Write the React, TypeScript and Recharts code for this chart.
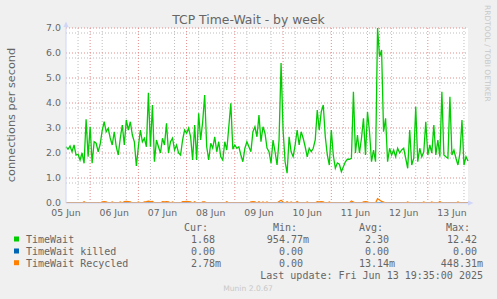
import { LineChart, Line, XAxis, YAxis, CartesianGrid } from 'recharts'

// hourly samples, first one 05 Jun 12:00, last one 13 Jun 20:00
const timeWait = [
  2.25, 2.15, 2.28, 2.05, 2.32, 1.92, 1.95, 1.72, 2.0, 1.59, 3.35, 1.85, 3.05, 1.59, 2.45, 2.39, 2.05, 2.35, 2.9, 3.25,
  2.85, 2.99, 2.6, 2.32, 2.85, 2.25, 1.92, 2.59, 3.12, 2.32, 3.32, 2.92, 3.25, 2.72, 2.45, 1.48, 2.25, 2.92, 2.45, 2.59,
  2.25, 4.41, 2.25, 3.92, 1.65, 2.52, 2.25, 2.0, 2.59, 2.32, 3.19, 2.0, 2.45, 2.59, 2.12, 2.32, 2.0, 1.92, 2.52, 2.92,
  2.79, 2.99, 2.65, 1.72, 3.12, 1.72, 3.59, 2.52, 3.25, 4.32, 2.25, 1.72, 2.39, 2.19, 2.65, 2.05, 2.45, 1.85, 1.72, 2.45,
  2.12, 3.05, 3.99, 2.15, 2.32, 2.19, 2.25, 1.92, 1.65, 2.19, 2.45, 2.25, 2.05, 2.85, 3.05, 2.65, 3.52, 2.45, 3.05, 2.79,
  2.2, 2.05, 1.59, 2.52, 2.05, 1.52, 2.52, 5.6, 2.92, 1.65, 1.19, 2.65, 2.05, 1.85, 2.32, 2.92, 2.32, 2.85, 2.59, 2.25,
  1.85, 2.19, 2.05, 2.19, 2.52, 3.72, 2.92, 3.65, 3.92, 2.65, 1.92, 1.52, 2.92, 1.9, 1.39, 1.6, 1.55, 1.25, 1.45, 1.65,
  1.75, 1.75, 1.79, 4.45, 2.0, 2.72, 2.0, 2.59, 3.39, 1.92, 3.65, 2.85, 1.65, 2.12, 1.65, 7.0, 5.85, 6.12, 2.85, 3.39,
  1.65, 2.19, 1.92, 2.12, 1.85, 2.19, 2.0, 2.12, 2.19, 1.79, 1.39, 2.92, 1.52, 1.79, 3.85, 1.65, 2.19, 1.85, 2.05, 3.25,
  1.92, 2.32, 2.0, 3.12, 1.92, 2.52, 1.85, 4.45, 1.92, 1.85, 1.79, 4.25, 1.92, 2.12, 1.79, 1.52, 2.0, 3.32, 1.52, 1.85,
  1.68,
]

const timeWaitKilled = [
  0, 0, 0, 0, 0, 0, 0, 0, 0, 0, 0, 0, 0, 0, 0, 0, 0, 0, 0, 0,
  0, 0, 0, 0, 0, 0, 0, 0, 0, 0, 0, 0, 0, 0, 0, 0, 0, 0, 0, 0,
  0, 0, 0, 0, 0, 0, 0, 0, 0, 0, 0, 0, 0, 0, 0, 0, 0, 0, 0, 0,
  0, 0, 0, 0, 0, 0, 0, 0, 0, 0, 0, 0, 0, 0, 0, 0, 0, 0, 0, 0,
  0, 0, 0, 0, 0, 0, 0, 0, 0, 0, 0, 0, 0, 0, 0, 0, 0, 0, 0, 0,
  0, 0, 0, 0, 0, 0, 0, 0, 0, 0, 0, 0, 0, 0, 0, 0, 0, 0, 0, 0,
  0, 0, 0, 0, 0, 0, 0, 0, 0, 0, 0, 0, 0, 0, 0, 0, 0, 0, 0, 0,
  0, 0, 0, 0, 0, 0, 0, 0, 0, 0, 0, 0, 0, 0, 0, 0, 0, 0, 0, 0,
  0, 0, 0, 0, 0, 0, 0, 0, 0, 0, 0, 0, 0, 0, 0, 0, 0, 0, 0, 0,
  0, 0, 0, 0, 0, 0, 0, 0, 0, 0, 0, 0, 0, 0, 0, 0, 0, 0, 0, 0,
  0,
]

const timeWaitRecycled = [
  0, 0, 0, 0, 0, 0, 0, 0, 0, 0.05, 0, 0, 0, 0, 0, 0, 0, 0, 0.04, 0.05,
  0.04, 0, 0, 0.04, 0, 0, 0, 0.04, 0, 0.05, 0.06, 0.05, 0.04, 0, 0, 0, 0.04, 0, 0, 0.04,
  0.05, 0.07, 0.05, 0.06, 0, 0, 0, 0, 0.05, 0.04, 0.05, 0.04, 0, 0.04, 0, 0, 0, 0, 0.05, 0.05,
  0.06, 0.05, 0.04, 0, 0.05, 0, 0, 0, 0.04, 0.04, 0, 0, 0, 0, 0, 0, 0, 0, 0, 0,
  0.05, 0, 0, 0, 0, 0, 0, 0, 0, 0, 0, 0, 0.04, 0.05, 0.04, 0, 0.05, 0, 0.04, 0,
  0.04, 0, 0, 0, 0, 0, 0.06, 0.11, 0.04, 0, 0.05, 0, 0.04, 0, 0, 0.06, 0, 0, 0, 0,
  0.04, 0, 0, 0, 0, 0.05, 0.04, 0.05, 0.04, 0, 0, 0.04, 0, 0, 0, 0, 0, 0, 0, 0,
  0, 0, 0.08, 0.04, 0, 0, 0, 0, 0.04, 0.05, 0.04, 0, 0, 0, 0, 0.17, 0.12, 0.06, 0.04, 0,
  0, 0, 0, 0, 0, 0, 0, 0, 0, 0, 0.04, 0, 0, 0, 0, 0, 0, 0, 0.04, 0,
  0, 0, 0.04, 0, 0, 0, 0.06, 0, 0, 0, 0, 0, 0, 0, 0, 0.04, 0, 0, 0, 0,
  0,
]

// day labels sit at noon, hours from the first sample
const dayTicks = [0, 24, 48, 72, 96, 120, 144, 168, 192]
const dayLabels = ['05 Jun', '06 Jun', '07 Jun', '08 Jun', '09 Jun', '10 Jun', '11 Jun', '12 Jun', '13 Jun']
const yTicks = [0, 1, 2, 3, 4, 5, 6, 7]

const legendNames = ['TimeWait', 'TimeWait killed', 'TimeWait Recycled']
const legendColors = ['#00CC00', '#0066B3', '#FF8000']
const curValues = ['1.68', '0.00', '2.78m']
const minValues = ['954.77m', '0.00', '0.00']
const avgValues = ['2.30', '0.00', '13.14m']
const maxValues = ['12.42', '0.00', '448.31m']

const data = timeWait.map((v, i) => ({
  t: i,
  tw: v,
  killed: timeWaitKilled[i],
  recycled: timeWaitRecycled[i],
}))

const minorY: number[] = []
for (let i = 1; i < 35; i++) if (i % 5 !== 0) minorY.push(i * 0.2)
const majorX: number[] = []
const minorX: number[] = []
for (let h = 6; h <= 198; h += 6) {
  if ((h - 12) % 24 === 0) majorX.push(h)
  else minorX.push(h)
}

const sans = 'DejaVu Sans'
const mono = 'DejaVu Sans Mono'
const fontColor = '#666'
const colEnds = [221, 309, 395, 483]
const rowBase = [243.3, 255.3, 267]

const valueX = (col: number, v: string) => (v.endsWith('m') ? colEnds[col] : colEnds[col] - 6)

const App = () => {
  return (
    <div style={{ position: 'fixed', left: 0, top: 0, width: 497, height: 299, background: '#F0F0F0' }}>
      <LineChart width={497} height={299} data={data} margin={{ top: 28, right: 29, bottom: 66, left: 26 }}>
        <CartesianGrid
          fill="#fff"
          stroke="#bdbdbd"
          strokeDasharray="1 2"
          horizontalValues={minorY}
          verticalValues={minorX}
        />
        <CartesianGrid
          stroke="#e58a8a"
          strokeDasharray="1 2"
          horizontalValues={[1, 2, 3, 4, 5, 6, 7]}
          verticalValues={majorX}
        />
        <XAxis
          dataKey="t"
          type="number"
          domain={[0, 200]}
          ticks={dayTicks}
          tickFormatter={(v) => dayLabels[dayTicks.indexOf(v)]}
          tick={{ fill: fontColor, fontSize: 9.3, fontFamily: sans }}
          tickLine={false}
          tickSize={0}
          tickMargin={6}
          axisLine={{ stroke: '#CFD6F8' }}
          height={30}
        />
        <YAxis
          type="number"
          domain={[0, 7]}
          ticks={yTicks}
          allowDataOverflow
          tickFormatter={(v) => Number(v).toFixed(1)}
          tick={{ fill: fontColor, fontSize: 9.4, fontFamily: sans }}
          tickLine={false}
          tickSize={0}
          tickMargin={5}
          axisLine={{ stroke: '#CFD6F8' }}
          width={40}
        />
        <Line type="linear" dataKey="tw" stroke="#00CC00" strokeWidth={1.3} dot={false} isAnimationActive={false} />
        <Line type="linear" dataKey="killed" stroke="#0066B3" strokeWidth={1.3} dot={false} isAnimationActive={false} />
        <Line type="linear" dataKey="recycled" stroke="#FF8000" strokeWidth={1.3} dot={false} isAnimationActive={false} />
      </LineChart>
      <svg width={497} height={299} style={{ position: 'absolute', left: 0, top: 0, pointerEvents: 'none' }}>
        <text x={248.5} y={24} textAnchor="middle" fill={fontColor} fontSize={12.4} fontFamily={sans}>
          TCP Time-Wait - by week
        </text>
        <text
          x={15}
          y={115}
          textAnchor="middle"
          fill={fontColor}
          fontSize={11.3}
          fontFamily={sans}
          transform="rotate(-90, 15, 115)"
        >
          connections per second
        </text>
        <text x={485} y={5} fill="#c8c8c8" fontSize={7.5} fontFamily={sans} transform="rotate(90, 485, 5)">
          RRDTOOL / TOBI OETIKER
        </text>
        <line x1={66} y1={28} x2={66} y2={23} stroke="#CFD6F8" />
        <polygon points="63.5,27 68.5,27 66,21.5" fill="#CFD6F8" />
        <polygon points="468,200.5 468,205.5 473.5,203" fill="#CFD6F8" />

        <g fontFamily={mono} fontSize={10} fill={fontColor}>
          <text x={208} y={231} textAnchor="end">Cur:</text>
          <text x={297} y={231} textAnchor="end">Min:</text>
          <text x={383} y={231} textAnchor="end">Avg:</text>
          <text x={470} y={231} textAnchor="end">Max:</text>
          {legendNames.map((name, i) => (
            <g key={name}>
              <rect x={14} y={rowBase[i] - 6.8} width={5} height={5} fill={legendColors[i]} />
              <text x={26} y={rowBase[i]}>{name}</text>
              <text x={valueX(0, curValues[i])} y={rowBase[i]} textAnchor="end">{curValues[i]}</text>
              <text x={valueX(1, minValues[i])} y={rowBase[i]} textAnchor="end">{minValues[i]}</text>
              <text x={valueX(2, avgValues[i])} y={rowBase[i]} textAnchor="end">{avgValues[i]}</text>
              <text x={valueX(3, maxValues[i])} y={rowBase[i]} textAnchor="end">{maxValues[i]}</text>
            </g>
          ))}
          <text x={483} y={279} textAnchor="end">Last update: Fri Jun 13 19:35:00 2025</text>
        </g>
        <text x={248} y={291} textAnchor="middle" fill="#c8c8c8" fontSize={7.6} fontFamily={sans}>
          Munin 2.0.67
        </text>
      </svg>
    </div>
  )
}

export default App
